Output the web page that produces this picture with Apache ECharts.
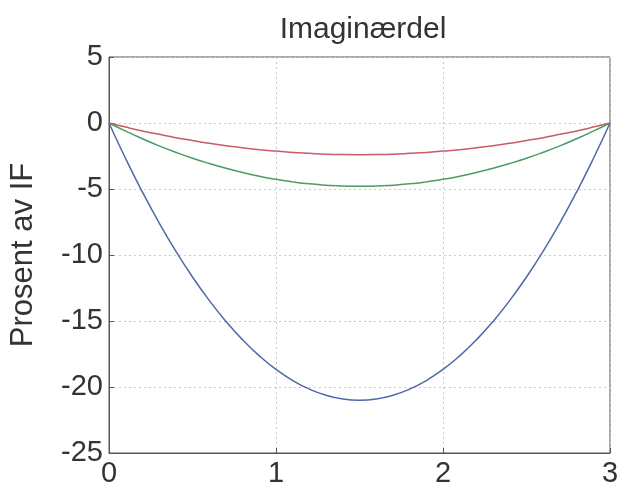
<!DOCTYPE html>
<html>
<head>
<meta charset="utf-8">
<script src="https://cdn.jsdelivr.net/npm/echarts@6/dist/echarts.min.js"></script>
<style>
  html, body { margin: 0; padding: 0; background: #fff; }
  #chart { width: 634px; height: 497px; }
</style>
</head>
<body>
<div id="chart"></div>
<script>
// x positions (0..3)
const xValues = [0, 0.1, 0.2, 0.3, 0.4, 0.5, 0.6, 0.7, 0.8, 0.9, 1.0,
  1.1, 1.2, 1.3, 1.4, 1.5, 1.6, 1.7, 1.8, 1.9, 2.0,
  2.1, 2.2, 2.3, 2.4, 2.5, 2.6, 2.7, 2.8, 2.9, 3.0];
// red curve (top)
const redValues = [0, -0.31, -0.6, -0.86, -1.11, -1.33, -1.54, -1.72, -1.88, -2.02, -2.13,
  -2.23, -2.3, -2.36, -2.39, -2.4, -2.39, -2.36, -2.3, -2.23, -2.13,
  -2.02, -1.88, -1.72, -1.54, -1.33, -1.11, -0.86, -0.6, -0.31, 0];
// green curve (middle)
const greenValues = [0, -0.62, -1.19, -1.73, -2.22, -2.67, -3.07, -3.43, -3.75, -4.03, -4.27,
  -4.46, -4.61, -4.71, -4.78, -4.8, -4.78, -4.71, -4.61, -4.46, -4.27,
  -4.03, -3.75, -3.43, -3.07, -2.67, -2.22, -1.73, -1.19, -0.62, 0];
// blue curve (bottom)
const blueValues = [0, -2.71, -5.23, -7.56, -9.71, -11.67, -13.44, -15.03, -16.43, -17.64, -18.67,
  -19.51, -20.16, -20.63, -20.91, -21.0, -20.91, -20.63, -20.16, -19.51, -18.67,
  -17.64, -16.43, -15.03, -13.44, -11.67, -9.71, -7.56, -5.23, -2.71, 0];

const xTicks = [0, 1, 2, 3];
const yTicks = [5, 0, -5, -10, -15, -20, -25];

function pairs(ys) {
  return xValues.map(function (x, i) { return [x, ys[i]]; });
}

const font = "Liberation Sans, Arial, sans-serif";
const gridLine = { show: true, lineStyle: { color: "#c8c8c8", type: [2, 3], width: 1 } };
const myChart = echarts.init(document.getElementById("chart"));
const option = {
  backgroundColor: "#fff",
  animation: false,
  title: {
    text: "Imaginærdel",
    left: 358,
    top: 10,
    textAlign: "center",
    textStyle: { fontFamily: font, fontSize: 30, fontWeight: "normal", color: "#333" }
  },
  grid: {
    left: 106, right: 24, top: 57, bottom: 44,
    show: true, borderColor: "#555", borderWidth: 1
  },
  xAxis: {
    type: "value",
    min: xTicks[0],
    max: xTicks[xTicks.length - 1],
    interval: 1,
    axisLine: { show: true, onZero: false, lineStyle: { color: "#555", width: 1 } },
    axisTick: { show: true, inside: true, length: 5, lineStyle: { color: "#555" } },
    axisLabel: { fontFamily: font, fontSize: 29, color: "#333", margin: 6 },
    splitLine: gridLine
  },
  yAxis: {
    type: "value",
    min: yTicks[yTicks.length - 1],
    max: yTicks[0],
    interval: 5,
    name: "Prosent av IF",
    nameLocation: "middle",
    nameGap: 70,
    nameTextStyle: { fontFamily: font, fontSize: 31, color: "#333" },
    axisLine: { show: true, onZero: false, lineStyle: { color: "#555", width: 1 } },
    axisTick: { show: true, inside: true, length: 5, lineStyle: { color: "#555" } },
    axisLabel: { fontFamily: font, fontSize: 29, color: "#333", margin: 6 },
    splitLine: gridLine
  },
  series: [
    {
      name: "red", type: "line", data: pairs(redValues), smooth: true,
      showSymbol: false, lineStyle: { color: "#c85a6a", width: 1.5 }
    },
    {
      name: "green", type: "line", data: pairs(greenValues), smooth: true,
      showSymbol: false, lineStyle: { color: "#4e9a62", width: 1.5 }
    },
    {
      name: "blue", type: "line", data: pairs(blueValues), smooth: true,
      showSymbol: false, lineStyle: { color: "#5068a8", width: 1.5 }
    }
  ]
};
myChart.setOption(option);
</script>
</body>
</html>
